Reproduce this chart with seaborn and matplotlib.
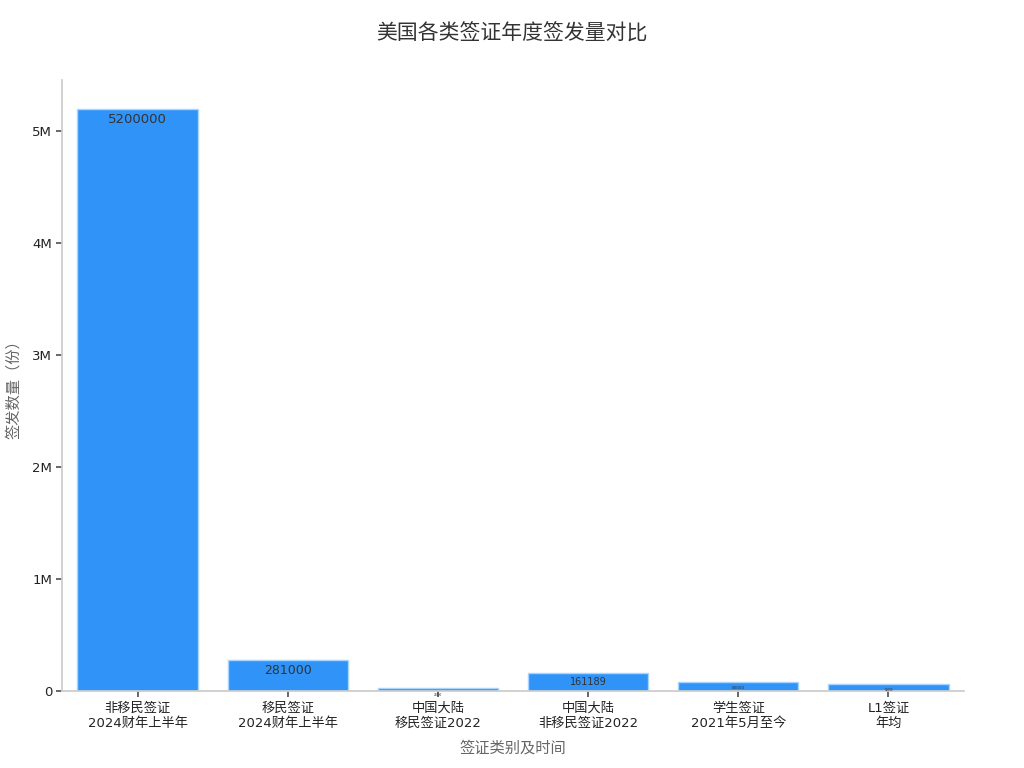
import numpy as np
import pandas as pd
import seaborn as sns
import matplotlib.pyplot as plt
from matplotlib.ticker import FuncFormatter

# data
cats = ['非移民签证\n2024财年上半年', '移民签证\n2024财年上半年', '中国大陆\n移民签证2022',
        '中国大陆\n非移民签证2022', '学生签证\n2021年5月至今', 'L1签证\n年均']
counts = [5200000, 281000, 25000, 161189, 80000, 62000]
label_sizes = [9.5, 9, 2, 7, 3, 2]

sns.set_theme(style='white')
plt.rcParams['font.family'] = ['DejaVu Sans', 'Noto Sans CJK SC']

df = pd.DataFrame({'cat': cats, 'n': counts})

fig, ax = plt.subplots(figsize=(10.24, 7.68), dpi=100)
fig.subplots_adjust(left=0.061, right=0.941, top=0.896, bottom=0.1)

sns.barplot(data=df, x='cat', y='n', color='#2f93f8', saturation=1,
            edgecolor='#a8d4ff', linewidth=1, width=0.8, ax=ax)

for p, v, fs in zip(ax.patches, counts, label_sizes):
    ax.annotate(str(v), (p.get_x() + p.get_width() / 2, p.get_height()),
                xytext=(0, -3), textcoords='offset points',
                ha='center', va='top', fontsize=fs, color='#333333')

ax.set_ylim(0, max(counts) * 1.05)
ax.set_xlim(-0.5, 5.5)
ax.yaxis.set_major_formatter(FuncFormatter(lambda v, _: '0' if v == 0 else f'{v/1e6:.0f}M'))
ax.tick_params(axis='both', which='both', length=4, color='#555555', labelsize=9.5,
               labelcolor='#222222', left=True, bottom=True)
for s in ['top', 'right']:
    ax.spines[s].set_visible(False)
for s in ['left', 'bottom']:
    ax.spines[s].set_color('#cccccc')

ax.set_xlabel('签证类别及时间', fontsize=11, color='#666666', labelpad=8)
ax.set_ylabel('签发数量（份）', fontsize=11, color='#666666', labelpad=8)
fig.suptitle('美国各类签证年度签发量对比', fontsize=15, color='#333333', y=0.97)

fig.savefig('out.png', dpi=100)
